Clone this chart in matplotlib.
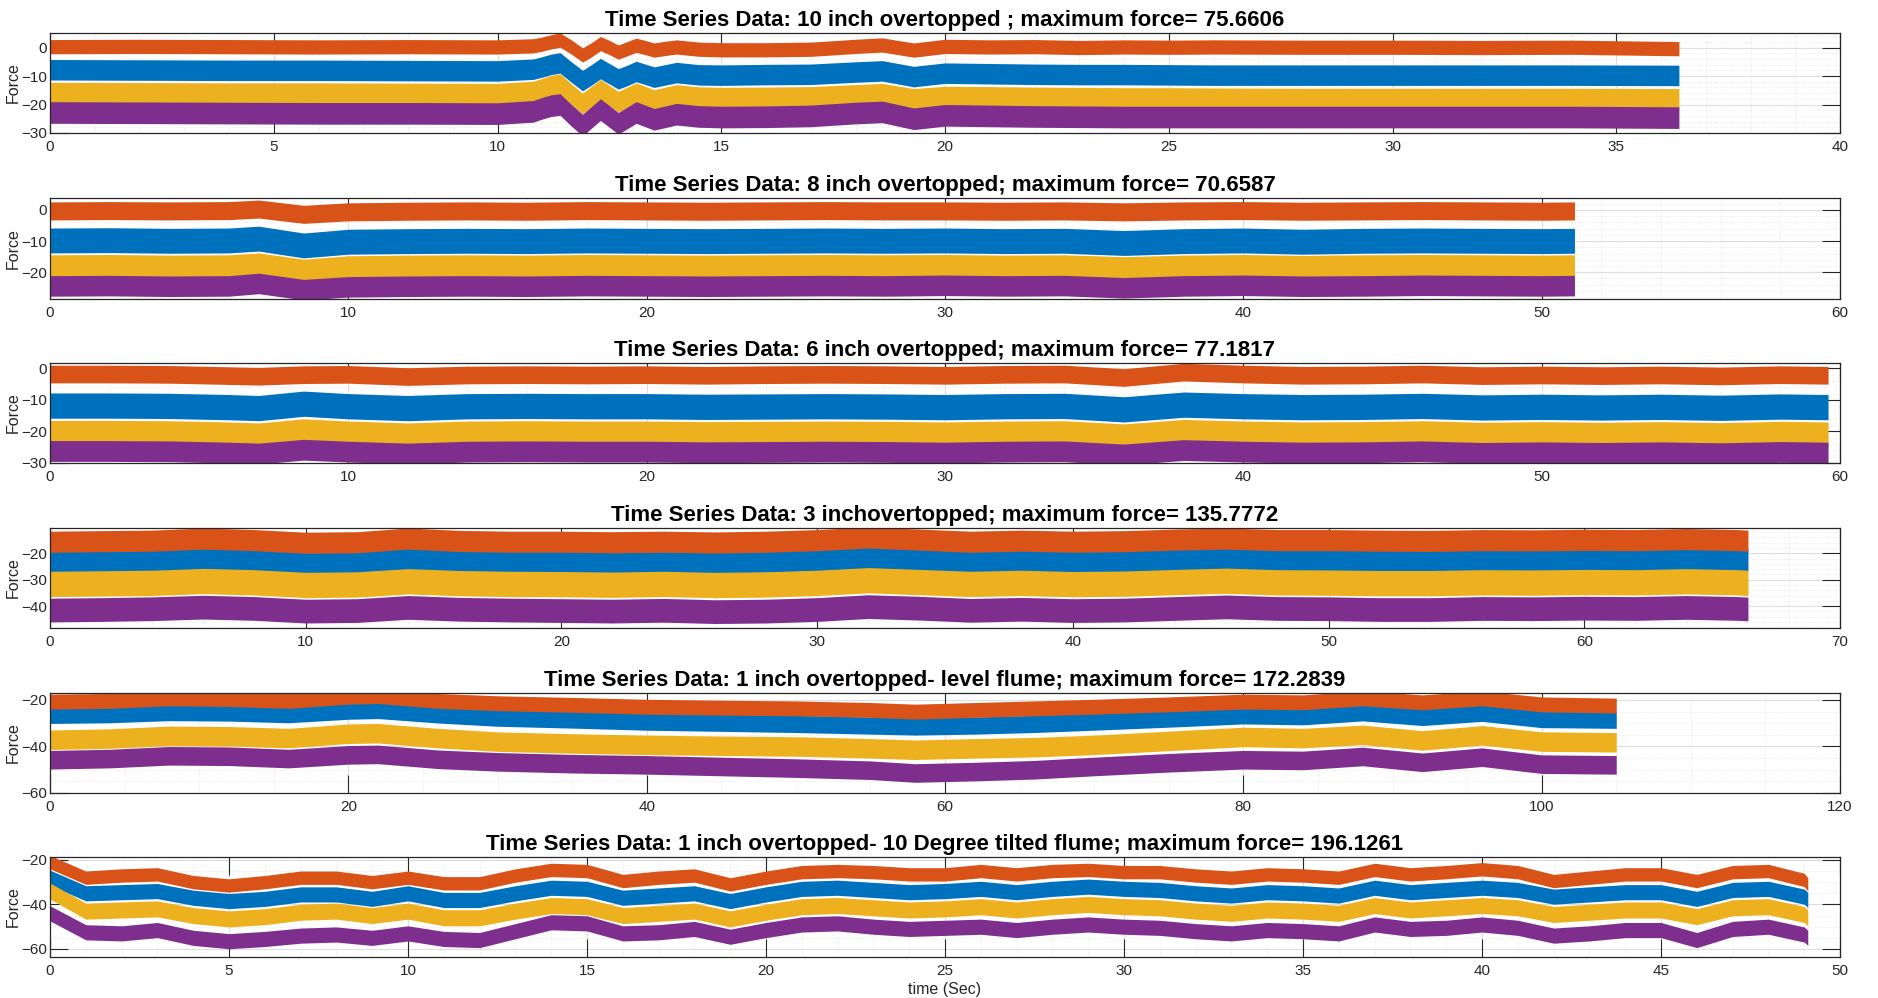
import numpy as np
import matplotlib
matplotlib.use("Agg")
import matplotlib.pyplot as plt
from matplotlib.ticker import MultipleLocator

plt.rcParams['font.family'] = ['Liberation Sans', 'DejaVu Sans']

# MATLAB default colour order
C_BLUE = '#0072BD'
C_ORANGE = '#D95319'
C_YELLOW = '#EDB120'
C_PURPLE = '#7E2F8E'

titles = [
    "Time Series Data: 10 inch overtopped ; maximum force= 75.6606",
    "Time Series Data: 8 inch overtopped; maximum force= 70.6587",
    "Time Series Data: 6 inch overtopped; maximum force= 77.1817",
    "Time Series Data: 3 inchovertopped; maximum force= 135.7772",
    "Time Series Data: 1 inch overtopped- level flume; maximum force= 172.2839",
    "Time Series Data: 1 inch overtopped- 10 Degree tilted flume; maximum force= 196.1261",
]

# ---- 10 inch overtopped ----
t1 = [0, 2, 4, 6, 8, 10,
      10.8, 11.0, 11.2, 11.4, 11.65, 11.9, 12.1, 12.3, 12.5, 12.7, 12.9, 13.1, 13.3, 13.5, 13.75, 14.0,
      14.5, 15, 16, 17, 18, 18.6, 19.3, 20, 21, 22, 23, 24, 25, 26, 28, 30, 32, 34, 36.4]
orange1 = [0.3, 0.4, 0.3, 0.2, 0.3, 0.2,
           0.6, 1.2, 2.0, 2.6, 0.2, -2.6, -0.8, 1.4, 0.0, -1.6, -0.4, 0.8, 0.0, -0.9, -0.3, 0.2,
           -0.6, -0.8, -0.8, -0.6, 0.4, 0.9, -0.9, 0.4, 0.2, 0.3, 0.0, 0.2, 0.1, 0.2, 0.1, 0.1, 0.0,
           0.1, -0.4]
blue1 = [-7.8, -7.9, -8.0, -8.0, -8.1, -8.2,
         -7.6, -6.8, -5.9, -5.4, -8.6, -11.6, -9.6, -7.4, -9.2, -11.0, -9.8, -8.4, -9.4, -10.4, -9.6,
         -8.8,
         -9.6, -9.7, -9.5, -9.4, -8.6, -8.2, -10.2, -9.0, -9.2, -9.4, -9.5, -9.5, -9.6, -9.7, -9.7,
         -9.7, -9.7, -9.7, -9.8]
yellow1 = [-15.8, -15.9, -16.0, -16.0, -16.1, -16.2,
           -15.4, -14.4, -13.4, -12.8, -16.4, -19.6, -17.2, -14.8, -16.9, -19.0, -17.5, -16.0, -17.2,
           -18.4, -17.5, -16.6,
           -17.4, -17.6, -17.5, -17.3, -16.6, -16.2, -18.0, -17.2, -17.3, -17.5, -17.6, -17.7, -17.7,
           -17.8, -17.9, -17.9, -17.9, -17.9, -18.0]
purple1 = [-22.8, -22.9, -23.0, -23.1, -23.1, -23.2,
           -22.4, -21.3, -20.4, -20.0, -23.8, -27.2, -24.5, -21.8, -24.2, -26.6, -24.7, -22.8, -24.0,
           -25.2, -24.3, -23.4,
           -24.2, -24.4, -24.3, -24.0, -23.0, -22.6, -25.0, -23.8, -24.0, -24.2, -24.3, -24.4, -24.4,
           -24.4, -24.4, -24.4, -24.4, -24.4, -24.6]

# ---- 8 inch overtopped ----
t2 = [0, 2, 4, 6, 7, 8.5, 10, 12, 14, 16, 18, 20, 22, 24, 26, 28, 30, 32, 34, 36, 38, 40, 42, 44,
      46, 48, 50, 51.1]
orange2 = [-0.3, -0.2, -0.3, -0.2, 0.3, -1.4, -0.6, -0.4, -0.3, -0.4, -0.2, -0.3, -0.4, -0.3, -0.2,
           -0.3, -0.3, -0.4, -0.3, -0.6, -0.3, -0.2, -0.4, -0.3, -0.2, -0.3, -0.4, -0.3]
blue2 = [-9.8, -9.7, -9.9, -9.8, -9.2, -11.4, -10.2, -10.0, -9.9, -10.0, -9.8, -9.9, -10.0, -9.9,
         -9.8, -9.9, -9.8, -10.0, -9.9, -10.6, -10.0, -9.8, -10.2, -9.9, -9.8, -9.9, -10.0, -9.9]
yellow2 = [-18.4, -18.3, -18.5, -18.4, -17.8, -19.8, -18.7, -18.5, -18.4, -18.5, -18.3, -18.4, -18.5,
           -18.4, -18.3, -18.4, -18.3, -18.5, -18.4, -19.0, -18.5, -18.3, -18.6, -18.4, -18.3, -18.4,
           -18.5, -18.4]
purple2 = [-24.4, -24.3, -24.5, -24.4, -23.6, -25.6, -24.7, -24.5, -24.4, -24.5, -24.3, -24.4, -24.5,
           -24.4, -24.3, -24.4, -24.2, -24.4, -24.3, -25.0, -24.4, -24.2, -24.5, -24.4, -24.2, -24.3,
           -24.4, -24.3]

# ---- 6 inch overtopped ----
t3 = [0, 2, 4, 6, 7, 8.5, 10, 12, 14, 16, 18, 20, 22, 24, 26, 28, 30, 32, 34, 36, 38, 40, 42, 44,
      46, 48, 50, 52, 54, 56, 58, 59.6]
orange3 = [-1.8, -1.8, -1.9, -2.3, -2.5, -2.0, -1.9, -2.6, -2.1, -2.0, -2.1, -2.0, -2.2, -2.0, -1.9,
           -2.0, -2.2, -1.9, -1.8, -2.9, -1.2, -1.8, -2.2, -2.1, -1.8, -2.3, -2.1, -2.3, -2.1, -2.4,
           -2.0, -2.2]
blue3 = [-11.8, -11.8, -11.9, -12.3, -12.6, -11.2, -12.0, -12.6, -12.0, -11.9, -12.0, -12.0, -12.2,
         -12.1, -12.0, -12.1, -12.3, -12.0, -11.9, -13.0, -11.5, -12.0, -12.3, -12.2, -11.9, -12.4,
         -12.2, -12.4, -12.2, -12.5, -12.1, -12.3]
yellow3 = [-20.5, -20.5, -20.6, -21.0, -21.3, -20.0, -20.7, -21.3, -20.7, -20.6, -20.7, -20.7, -20.9,
           -20.8, -20.7, -20.8, -21.0, -20.7, -20.6, -21.6, -20.2, -20.7, -21.0, -20.9, -20.6, -21.1,
           -20.9, -21.1, -20.9, -21.2, -20.8, -21.0]
purple3 = [-26.2, -26.2, -26.3, -26.7, -27.0, -25.8, -26.4, -27.0, -26.4, -26.3, -26.4, -26.4, -26.6,
           -26.5, -26.4, -26.5, -26.7, -26.4, -26.3, -27.3, -25.9, -26.4, -26.7, -26.6, -26.3, -26.8,
           -26.6, -26.8, -26.6, -26.9, -26.5, -26.7]

# ---- 3 inch overtopped ----
t4 = [0, 2, 4, 6, 8, 10, 12, 14, 16, 18, 20, 22, 24, 26, 28, 30, 32, 34, 36, 38, 40, 42, 44, 46,
      48, 50, 52, 54, 56, 58, 60, 62, 64, 66, 66.4]
orange4 = [-15.6, -15.4, -15.2, -14.4, -15.0, -16.0, -15.8, -14.4, -15.3, -15.6, -15.6, -15.8, -15.6,
           -15.9, -15.6, -15.0, -14.0, -14.8, -15.6, -15.2, -15.6, -15.4, -14.8, -14.4, -15.0, -15.0,
           -15.2, -15.3, -15.0, -15.1, -14.9, -15.0, -14.6, -15.0, -15.2]
blue4 = [-22.8, -22.6, -22.4, -21.8, -22.3, -23.2, -23.0, -21.8, -22.6, -22.8, -22.9, -23.1, -22.8,
         -23.2, -22.9, -22.3, -21.4, -22.1, -22.9, -22.5, -22.9, -22.7, -22.1, -21.7, -22.3, -22.4,
         -22.6, -22.6, -22.3, -22.4, -22.2, -22.3, -21.9, -22.3, -22.5]
yellow4 = [-31.6, -31.4, -31.2, -30.5, -31.0, -32.0, -31.8, -30.6, -31.3, -31.6, -31.7, -31.9, -31.6,
           -32.0, -31.8, -31.2, -30.2, -30.9, -31.6, -31.2, -31.7, -31.5, -30.9, -30.4, -31.0, -31.1,
           -31.3, -31.3, -31.0, -31.1, -30.9, -31.0, -30.6, -31.0, -31.2]
purple4 = [-41.5, -41.3, -41.0, -40.4, -40.9, -41.9, -41.7, -40.5, -41.2, -41.5, -41.7, -41.9, -41.6,
           -42.1, -41.9, -41.3, -40.2, -40.8, -41.6, -41.2, -41.7, -41.5, -40.9, -40.3, -40.9, -41.0,
           -41.3, -41.3, -40.9, -41.0, -40.8, -40.9, -40.5, -40.9, -41.1]

# ---- 1 inch overtopped, level flume ----
t5 = [0, 4, 8, 12, 16, 20, 22, 26, 30, 35, 40, 45, 50, 55, 58, 62, 66, 70, 75, 80, 84, 88, 92, 96,
      100, 105]
orange5 = [-20.7, -20.4, -19.3, -19.6, -20.4, -18.6, -18.3, -20.4, -21.4, -22.1, -22.9, -23.3, -23.6,
           -24.3, -25.0, -24.3, -23.6, -22.9, -21.9, -20.7, -21.0, -19.3, -21.0, -19.3, -21.9, -22.4]
blue5 = [-26.4, -26.1, -25.2, -25.4, -26.1, -24.6, -24.3, -26.2, -27.6, -28.4, -29.3, -29.8, -30.3,
         -31.0, -31.4, -31.0, -30.3, -29.3, -28.0, -26.6, -27.0, -25.3, -27.3, -25.5, -28.2, -28.5]
yellow5 = [-37.1, -36.6, -35.4, -35.6, -36.4, -34.5, -34.3, -36.4, -37.9, -38.7, -39.3, -39.7, -40.0,
           -40.8, -41.4, -40.8, -40.3, -39.3, -37.6, -35.9, -36.4, -35.0, -37.4, -35.2, -37.9, -38.2]
purple5 = [-45.7, -45.2, -44.0, -44.2, -45.2, -43.6, -43.4, -45.5, -46.6, -47.4, -47.9, -48.6, -49.3,
           -50.2, -51.4, -50.8, -50.0, -48.6, -47.0, -45.7, -46.0, -44.3, -46.8, -44.6, -47.6, -47.9]

# ---- 1 inch overtopped, 10 degree tilted flume ----
t6 = [0, 1, 2, 3, 4, 5, 6, 7, 8, 9, 10, 11, 12, 13, 14, 15, 16, 17, 18, 19, 20, 21, 22, 23, 24,
      25, 26, 27, 28, 29, 30, 31, 32, 33, 34, 35, 36, 37, 38, 39, 40, 41, 42, 43, 44, 45, 46, 47,
      48, 49, 49.1]
orange6 = [-21.0, -28.0, -27.0, -26.5, -30.0, -31.5, -30.0, -28.0, -28.0, -30.0, -28.0, -30.5, -30.5,
           -27.0, -24.5, -25.0, -29.5, -28.0, -27.0, -31.0, -28.0, -25.5, -25.0, -25.5, -26.5, -26.5,
           -25.0, -26.5, -25.0, -24.5, -25.5, -25.5, -27.0, -28.0, -26.5, -27.0, -28.0, -24.5, -26.5,
           -25.5, -24.2, -25.5, -29.5, -28.0, -26.5, -26.5, -29.5, -25.5, -25.0, -29.0, -31.0]
blue6 = [-28.0, -35.0, -34.5, -34.0, -37.0, -38.5, -37.5, -35.5, -35.5, -37.5, -35.0, -38.0, -38.0,
         -35.0, -32.5, -33.0, -37.0, -36.0, -35.0, -38.5, -35.5, -33.0, -32.5, -33.5, -34.5, -34.0,
         -33.0, -34.5, -33.0, -32.0, -33.0, -33.5, -35.0, -36.0, -34.5, -35.0, -36.0, -32.5, -34.5,
         -33.5, -32.5, -33.5, -36.5, -35.5, -34.5, -34.5, -37.5, -33.5, -33.0, -36.5, -38.0]
yellow6 = [-34.0, -43.0, -42.5, -42.0, -45.0, -46.5, -45.5, -43.5, -43.0, -45.0, -43.0, -46.0, -46.0,
           -43.0, -40.5, -41.0, -45.0, -44.0, -43.0, -46.5, -43.5, -41.0, -40.5, -41.5, -42.5, -42.0,
           -41.0, -42.5, -41.0, -40.0, -41.0, -41.5, -43.0, -44.0, -42.5, -43.0, -44.0, -40.5, -42.5,
           -41.5, -40.5, -41.5, -44.5, -43.5, -42.5, -42.5, -45.5, -41.5, -41.0, -44.5, -46.0]
purple6 = [-44.0, -52.5, -53.0, -51.5, -55.0, -56.5, -55.5, -54.0, -53.5, -55.0, -53.0, -55.5, -56.0,
           -52.0, -48.0, -48.5, -53.0, -52.5, -51.0, -54.5, -51.5, -49.0, -48.5, -50.0, -51.0, -50.5,
           -50.0, -51.5, -50.0, -49.0, -50.0, -50.5, -52.0, -53.0, -51.5, -52.0, -53.0, -49.0, -51.0,
           -50.5, -49.0, -50.5, -54.0, -53.0, -51.5, -51.5, -56.0, -51.0, -50.0, -53.5, -55.0]

# band half-widths (blue, orange, yellow, purple)
halfwidths = [
    (3.6, 2.5, 3.6, 3.8),
    (4.0, 2.9, 4.0, 3.3),
    (4.0, 2.8, 4.0, 3.3),
    (4.3, 4.0, 4.8, 4.5),
    (3.7, 3.2, 4.2, 4.0),
    (3.4, 3.0, 3.6, 3.4),
]

panels = [
    (t1, blue1, orange1, yellow1, purple1),
    (t2, blue2, orange2, yellow2, purple2),
    (t3, blue3, orange3, yellow3, purple3),
    (t4, blue4, orange4, yellow4, purple4),
    (t5, blue5, orange5, yellow5, purple5),
    (t6, blue6, orange6, yellow6, purple6),
]

xlims = [(0, 40), (0, 60), (0, 60), (0, 70), (0, 120), (0, 50)]
ylims = [(-30, 5.1), (-28.6, 3.85), (-30, 1.7), (-48.3, -10.4), (-60, -17), (-63.6, -18.7)]
xmajor = [5, 10, 10, 10, 20, 5]
xminor = [1, 2, 2, 2, 5, 1]
ymajor = [10, 10, 10, 10, 20, 20]
yminor = [2, 2, 2, 2, 5, 5]

# axes boxes in pixels (top, bottom)
W, H = 1878, 998
boxes_px = [(33, 133), (198, 299), (363, 463), (528, 628), (693, 793), (857, 957)]
left_px, right_px = 50, 1840

fig = plt.figure(figsize=(W / 100, H / 100), dpi=100)
colors = [C_BLUE, C_ORANGE, C_YELLOW, C_PURPLE]
edge = '#262626'

for i, (top, bot) in enumerate(boxes_px):
    ax = fig.add_axes([left_px / W, 1 - bot / H, (right_px - left_px) / W, (bot - top) / H])
    t, *series = panels[i]
    t = np.asarray(t, float)
    for s, col, hw in zip(series, colors, halfwidths[i]):
        s = np.asarray(s, float)
        ax.fill_between(t, s - hw, s + hw, color=col, linewidth=0)
    ax.set_xlim(*xlims[i])
    ax.set_ylim(*ylims[i])
    ax.xaxis.set_major_locator(MultipleLocator(xmajor[i]))
    ax.xaxis.set_minor_locator(MultipleLocator(xminor[i]))
    ax.yaxis.set_major_locator(MultipleLocator(ymajor[i]))
    ax.yaxis.set_minor_locator(MultipleLocator(yminor[i]))
    ax.grid(True, which='major', color='#262626', alpha=0.15, linewidth=0.8)
    ax.grid(True, which='minor', color='#262626', alpha=0.12, linewidth=0.6, linestyle=':')
    ax.set_axisbelow(True)
    ax.tick_params(which='major', direction='in', length=13, width=0.8, color=edge,
                   top=True, right=True, labelsize=11, labelcolor='#262626')
    ax.tick_params(axis='x', which='major', pad=5)
    ax.tick_params(axis='y', which='major', pad=2)
    ax.tick_params(which='minor', length=0, top=True, right=True)
    for sp in ax.spines.values():
        sp.set_color(edge)
        sp.set_linewidth(0.9)
    ax.set_ylabel('Force', fontsize=11.5, color='#262626')
    ax.yaxis.set_label_coords(-0.0165, 0.5)
    ax.set_title(titles[i], fontsize=16, fontweight='bold', pad=5)
    if i == len(boxes_px) - 1:
        ax.set_xlabel('time (Sec)', fontsize=11.5, color='#262626', labelpad=3)

fig.savefig('out.png', dpi=100, facecolor='white')
